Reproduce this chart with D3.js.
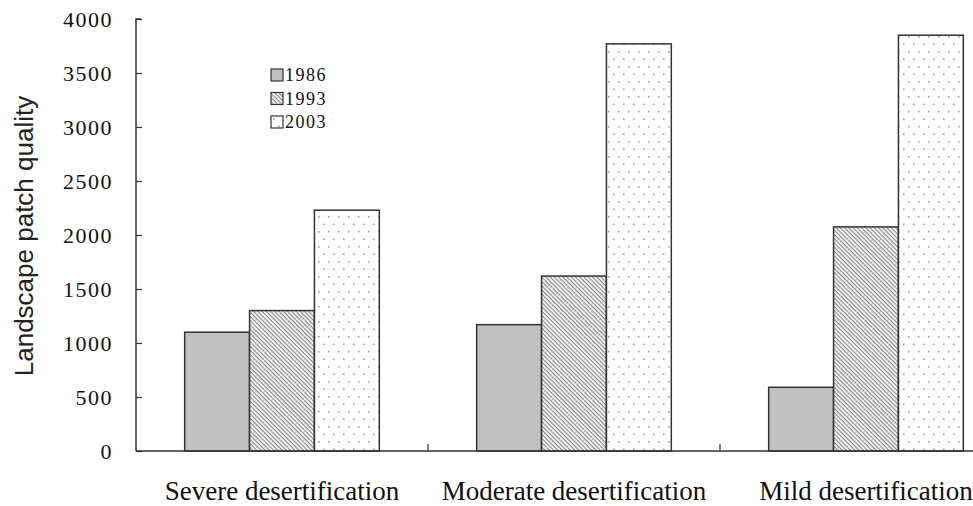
<!DOCTYPE html>
<html>
<head>
<meta charset="utf-8">
<script src="https://cdn.jsdelivr.net/npm/d3@7"></script>
<style>
  body { margin: 0; background: #fff; }
</style>
</head>
<body>
<div id="chart"></div>
<script>
// chart data
var categories = ["Severe desertification", "Moderate desertification", "Mild desertification"];
var years = ["1986", "1993", "2003"];
var values1986 = [1100, 1170, 590];
var values1993 = [1300, 1620, 2075];
var values2003 = [2230, 3770, 3850];
var yTicks = [0, 500, 1000, 1500, 2000, 2500, 3000, 3500, 4000];

var series = [values1986, values1993, values2003];
var serif = "'Liberation Serif', 'Times New Roman', serif";

var margin = { top: 19, right: 0, bottom: 55, left: 136 },
    width = 973 - margin.left - margin.right,
    height = 506 - margin.top - margin.bottom;

var svg = d3.select("#chart").append("svg")
    .attr("width", 973)
    .attr("height", 506);

// fill patterns
var defs = svg.append("defs");
var stripes = defs.append("pattern")
    .attr("id", "stripes")
    .attr("patternUnits", "userSpaceOnUse")
    .attr("width", 3).attr("height", 3)
    .attr("patternTransform", "rotate(45)");
stripes.append("rect").attr("width", 3).attr("height", 3).attr("fill", "#fff");
stripes.append("rect").attr("width", 3).attr("height", 1.3).attr("fill", "#8c8c8c");

var dots = defs.append("pattern")
    .attr("id", "dots")
    .attr("patternUnits", "userSpaceOnUse")
    .attr("width", 10).attr("height", 15);
dots.append("rect").attr("width", 10).attr("height", 15).attr("fill", "#fff");
dots.append("rect").attr("x", 2).attr("y", 2).attr("width", 1.6).attr("height", 1.6).attr("fill", "#a0a0a0");
dots.append("rect").attr("x", 7).attr("y", 9.5).attr("width", 1.6).attr("height", 1.6).attr("fill", "#a0a0a0");

var fills = ["#c0c0c0", "url(#stripes)", "url(#dots)"];

var g = svg.append("g")
    .attr("transform", "translate(" + margin.left + "," + margin.top + ")");

// band width of the full category (chart is cropped at the right edge)
var bandW = 292;
var x = d3.scaleBand()
    .domain(categories)
    .range([0, bandW * categories.length]);
var xInner = d3.scaleBand()
    .domain(years)
    .range([bandW / 6, bandW * 5 / 6]);
var y = d3.scaleLinear()
    .domain([0, 4000])
    .range([height, 0]);

// bars
years.forEach(function(yr, i) {
    g.selectAll(".bar" + yr)
        .data(categories)
        .enter().append("rect")
        .attr("x", function(d) { return x(d) + xInner(yr); })
        .attr("width", xInner.bandwidth())
        .attr("y", function(d, j) { return y(series[i][j]); })
        .attr("height", function(d, j) { return height - y(series[i][j]); })
        .attr("fill", fills[i])
        .attr("stroke", "#333")
        .attr("stroke-width", 1.5);
});

// y axis, ticks pointing inward
var yAxis = g.append("g")
    .call(d3.axisRight(y).tickValues(yTicks).tickSize(6).tickFormat(d3.format("d")));
yAxis.select(".domain").attr("stroke", "#333").attr("stroke-width", 1.5).attr("d", "M0," + height + "V0H5");
yAxis.selectAll(".tick line").attr("stroke", "#333").attr("stroke-width", 1.2);
yAxis.selectAll(".tick text")
    .attr("x", -23)
    .attr("dy", "0.35em")
    .attr("text-anchor", "end")
    .style("font-family", serif)
    .style("font-size", "22px")
    .style("letter-spacing", "1.5px")
    .style("fill", "#111");

// x axis with boundary ticks pointing up
var xAxis = g.append("g")
    .attr("transform", "translate(0," + height + ")");
xAxis.append("line")
    .attr("x1", 0).attr("x2", width)
    .attr("stroke", "#333").attr("stroke-width", 1.5);
xAxis.selectAll(".sep")
    .data(categories.slice(1))
    .enter().append("line")
    .attr("x1", function(d) { return x(d); })
    .attr("x2", function(d) { return x(d); })
    .attr("y1", 0).attr("y2", -7)
    .attr("stroke", "#333").attr("stroke-width", 1.2);
xAxis.selectAll(".lbl")
    .data(categories)
    .enter().append("text")
    .attr("x", function(d) { return x(d) + x.bandwidth() / 2; })
    .attr("y", 49)
    .attr("text-anchor", "middle")
    .style("font-family", serif)
    .style("font-size", "27px")
    .style("fill", "#111")
    .text(function(d) { return d; });

// y axis title
svg.append("text")
    .attr("transform", "translate(33,236) rotate(-90)")
    .attr("text-anchor", "middle")
    .style("font-family", "'Liberation Sans', Arial, sans-serif")
    .style("font-size", "26px")
    .style("fill", "#222")
    .text("Landscape patch quality");

// legend
var legend = svg.append("g").attr("transform", "translate(271,69)");
years.forEach(function(yr, i) {
    var row = legend.append("g").attr("transform", "translate(0," + (i * 23.5) + ")");
    row.append("rect")
        .attr("width", 12).attr("height", 12)
        .attr("fill", fills[i])
        .attr("stroke", "#333").attr("stroke-width", 1.2);
    row.append("text")
        .attr("x", 14).attr("y", 12)
        .style("font-family", serif)
        .style("font-size", "18px")
        .style("letter-spacing", "1.5px")
        .style("fill", "#111")
        .text(yr);
});
</script>
</body>
</html>
